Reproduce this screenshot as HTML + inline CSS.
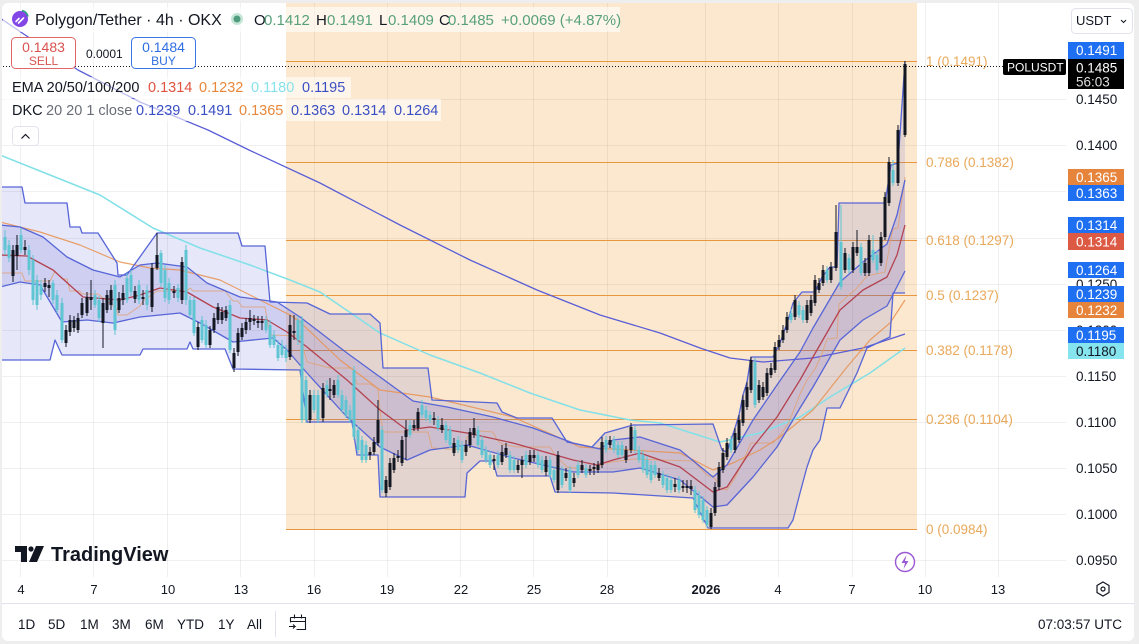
<!DOCTYPE html>
<html><head><meta charset="utf-8"><style>
html,body{margin:0;padding:0;background:#eeeeee;}
svg{display:block;font-family:"Liberation Sans",Arial,sans-serif;}
</style></head><body>
<svg width="1139" height="644" viewBox="0 0 1139 644" xmlns="http://www.w3.org/2000/svg">
<rect width="1139" height="644" fill="#eeeeee"/>
<rect x="2" y="3" width="1132" height="638" rx="6" fill="#ffffff"/>
<defs><clipPath id="c"><rect x="2" y="3" width="1064" height="574"/></clipPath></defs>
<g clip-path="url(#c)">
<rect x="286" y="3" width="631" height="526" fill="#fce8ce"/>
<g stroke="#000" stroke-opacity="0.06" stroke-width="1">
<path d="M2 99.5H1066M2 145.5H1066M2 191.5H1066M2 238.5H1066M2 284.5H1066M2 330.5H1066M2 376.5H1066M2 422.5H1066M2 468.5H1066M2 514.5H1066M2 560.5H1066"/>
<path d="M20.5 3V577M93.5 3V577M167.5 3V577M240.5 3V577M314.5 3V577M387.5 3V577M460.5 3V577M533.5 3V577M607.5 3V577M705.5 3V577M778.5 3V577M852.5 3V577M925.5 3V577M998.5 3V577"/>
</g>
<g stroke="#e8973f" stroke-width="1">
<path d="M286 61.5H917M286 162.5H917M286 240.5H917M286 295.5H917M286 350.5H917M286 419.5H917M286 529.5H917"/>
</g>
<polygon fill="#5a64dc" fill-opacity="0.15" points="0,187 22,187 25,203 67,203 70,227 80,227 82,233 98,233 117,263 118,275 127,275 157,233 238,233 242,246 265,246 270,302 307,303 330,314 370,314 380,323 383,368 428,368 432,400 497,403 502,412 517,418 552,418 567,442 592,447 605,433 633,425 713,424 722,450 727,452 735,428 739,415 743,395 747,382 751,357 773,357 780,343 788,320 793,303 802,292 815,292 822,277 830,267 837,267 839,203 885,203 891,165 898,163 905,61 905,293 893,293 890,337 867,348 857,373 840,408 827,408 820,440 813,450 807,467 800,493 793,520 788,528 708,528 693,498 613,493 555,492 550,476 497,476 493,461 480,461 467,473 465,497 380,497 378,455 357,455 352,422 307,422 300,370 233,369 225,349 193,349 190,342 187,349 143,349 140,355 62,355 55,340 50,360 0,360"/>
<polygon fill="#5046c8" fill-opacity="0.15" points="0,225 20,227 43,237 67,257 93,270 120,277 140,265 157,263 187,267 207,283 240,297 277,302 300,317 347,353 380,377 413,401 447,407 493,417 533,428 573,443 600,449 613,440 640,437 680,450 713,477 727,465 753,420 777,385 800,352 813,328 840,282 863,262 887,244 897,215 905,180 905,271 887,306 863,320 840,340 813,387 800,408 777,447 753,477 727,505 713,507 680,480 640,468 613,472 573,472 513,458 467,445 430,450 407,460 380,447 347,417 307,373 287,350 273,338 233,342 200,323 180,313 140,317 113,323 87,320 62,322 40,285 20,282 0,287"/>
<g fill="none" stroke-linejoin="round">
<polyline stroke="#5a5ed6" stroke-width="1.3" points="0,18 40,45 78,70 140,102 208,130 249,150 320,183 400,225 470,260 537,290 600,315 660,333 700,348 730,358 763,362 813,358 863,348 905,334"/>
<polyline stroke="#82e0e8" stroke-width="1.5" points="0,155 50,175 100,195 153,228 200,248 250,265 290,280 320,292 380,333 430,355 480,373 530,393 580,410 630,420 660,423 720,442 760,433 800,417 830,397 870,373 905,348"/>
<polyline stroke="#e8904f" stroke-opacity="0.85" stroke-width="1.2" points="0,222 40,232 80,245 120,262 150,268 180,270 220,280 260,300 290,315 300,322 340,360 380,390 430,397 513,417 580,447 680,453 713,470 733,463 760,450 780,437 813,410 847,367 870,340 890,323 905,300"/>
<polyline stroke="#e0a070" stroke-opacity="0.8" stroke-width="1" points="0,273 22,273 25,281 50,281 55,271 62,279 67,279 70,291 80,291 82,294 98,294 117,309 118,315 127,315 140,306 143,301 157,291 187,291 190,288 193,291 225,291 233,301 238,301 242,307 265,307 270,335 300,336 307,362 330,368 352,368 357,384 370,384 378,389 380,410 383,432 428,432 432,448 465,450 467,437 480,431 493,432 497,440 502,444 517,447 550,447 555,455 567,467 592,470 605,463 633,459 693,461 708,476 713,476 722,489 727,490 735,478 743,461 751,443 773,443 780,435 788,424 793,412 800,394 807,380 815,369 822,354 827,339 837,338 839,304 857,288 867,276 885,272 891,238 893,229 898,228 905,177"/>
<polyline stroke="#b3424f" stroke-width="1.3" points="0,255 27,256 53,270 83,297 120,300 140,295 160,288 187,292 213,307 240,318 267,320 287,332 307,347 347,380 380,410 407,430 430,427 467,433 513,443 573,460 597,465 613,460 640,453 680,467 713,492 727,487 753,447 777,417 800,380 813,357 840,310 863,290 887,277 897,255 905,225"/>
<polyline stroke="#5765d6" stroke-width="1.3" points="0,187 22,187 25,203 67,203 70,227 80,227 82,233 98,233 117,263 118,275 127,275 157,233 238,233 242,246 265,246 270,302 307,303 330,314 370,314 380,323 383,368 428,368 432,400 497,403 502,412 517,418 552,418 567,442 592,447 605,433 633,425 713,424 722,450 727,452 735,428 739,415 743,395 747,382 751,357 773,357 780,343 788,320 793,303 802,292 815,292 822,277 830,267 837,267 839,203 885,203 891,165 898,163 905,61"/>
<polyline stroke="#5765d6" stroke-width="1.3" points="0,360 50,360 55,340 62,355 140,355 143,349 187,349 190,342 193,349 225,349 233,369 300,370 307,422 352,422 357,455 378,455 380,497 465,497 467,473 480,461 493,461 497,476 550,476 555,492 613,493 693,498 708,528 788,528 793,520 800,493 807,467 813,450 820,440 827,408 840,408 857,373 867,348 890,337 893,293 905,293"/>
<polyline stroke="#5765d6" stroke-width="1.3" points="0,225 20,227 43,237 67,257 93,270 120,277 140,265 157,263 187,267 207,283 240,297 277,302 300,317 347,353 380,377 413,401 447,407 493,417 533,428 573,443 600,449 613,440 640,437 680,450 713,477 727,465 753,420 777,385 800,352 813,328 840,282 863,262 887,244 897,215 905,180"/>
<polyline stroke="#5765d6" stroke-width="1.3" points="0,287 20,282 40,285 62,322 87,320 113,323 140,317 180,313 200,323 233,342 273,338 287,350 307,373 347,417 380,447 407,460 430,450 467,445 513,458 573,472 613,472 640,468 680,480 713,507 727,505 753,477 777,447 800,408 813,387 840,340 863,320 887,306 905,271"/>
</g>
<path stroke="#5fc5d3" stroke-width="1" fill="none" d="M5 230V255M9 240V262M21 228V253M29 245V275M33 255V305M37 275V310M41 280V300M53 280V304M57 290V313M62 298V343M95 290V308M99 296V322M115 280V335M127 273V303M131 270V296M139 280V304M147 285V310M161 250V287M165 265V302M169 278V304M178 284V302M186 245V305M190 296V318M194 297V336M202 316V343M206 320V348M230 300V353M266 316V333M270 320V348M274 330V348M278 340V361M282 340V358M286 345V362M298 316V345M302 316V423M306 376V423M314 390V413M318 390V423M327 380V398M338 375V398M342 390V413M346 396V418M350 405V423M354 366V440M358 426V453M362 436V463M366 441V463M382 426V493M410 420V438M422 400V418M426 406V421M430 411V423M438 416V431M446 421V443M450 426V448M458 436V453M462 441V463M478 426V448M482 436V458M486 446V463M490 451V468M498 451V468M510 451V473M514 456V473M526 451V468M538 451V468M542 456V473M550 456V478M554 466V483M562 466V488M570 466V493M578 461V478M586 464V478M606 436V453M614 436V453M618 441V458M622 441V458M635 426V453M639 446V463M643 451V473M647 456V478M651 461V483M655 461V478M663 471V488M667 474V493M671 476V493M679 476V493M695 486V513M699 491V518M703 496V523M707 506V528M731 436V453M755 358V408M791 309V323M799 301V318M803 306V323M827 266V283M841 205V290M849 254V273M861 243V276M873 235V263M877 251V273M893 160V186"/>
<path fill="#5fc5d3" d="M3.5 237h3V250h-3zM7.5 245h3V258h-3zM19.5 235h3V250h-3zM27.5 250h3V270h-3zM31.5 260h3V300h-3zM35.5 280h3V305h-3zM39.5 285h3V295h-3zM51.5 283h3V300h-3zM55.5 295h3V310h-3zM60.5 303h3V340h-3zM93.5 295h3V305h-3zM97.5 300h3V318h-3zM113.5 285h3V330h-3zM125.5 278h3V300h-3zM129.5 275h3V292h-3zM137.5 285h3V300h-3zM145.5 290h3V305h-3zM159.5 253h3V283h-3zM163.5 270h3V298h-3zM167.5 283h3V300h-3zM176.5 288h3V298h-3zM184.5 250h3V300h-3zM188.5 300h3V315h-3zM192.5 300h3V333h-3zM200.5 320h3V340h-3zM204.5 325h3V345h-3zM228.5 305h3V350h-3zM264.5 320h3V330h-3zM268.5 325h3V345h-3zM272.5 335h3V345h-3zM276.5 345h3V358h-3zM280.5 345h3V355h-3zM284.5 350h3V358h-3zM296.5 320h3V340h-3zM300.5 320h3V420h-3zM304.5 380h3V420h-3zM312.5 395h3V410h-3zM316.5 395h3V420h-3zM325.5 385h3V395h-3zM336.5 380h3V395h-3zM340.5 395h3V410h-3zM344.5 400h3V415h-3zM348.5 410h3V420h-3zM352.5 370h3V437h-3zM356.5 430h3V450h-3zM360.5 440h3V460h-3zM364.5 445h3V460h-3zM380.5 430h3V490h-3zM408.5 425h3V435h-3zM420.5 405h3V415h-3zM424.5 410h3V418h-3zM428.5 415h3V420h-3zM436.5 420h3V428h-3zM444.5 425h3V440h-3zM448.5 430h3V445h-3zM456.5 440h3V450h-3zM460.5 445h3V460h-3zM476.5 430h3V445h-3zM480.5 440h3V455h-3zM484.5 450h3V460h-3zM488.5 455h3V465h-3zM496.5 455h3V465h-3zM508.5 455h3V470h-3zM512.5 460h3V470h-3zM524.5 455h3V465h-3zM536.5 455h3V465h-3zM540.5 460h3V470h-3zM548.5 460h3V475h-3zM552.5 470h3V480h-3zM560.5 470h3V485h-3zM568.5 470h3V490h-3zM576.5 465h3V475h-3zM584.5 468h3V475h-3zM604.5 440h3V450h-3zM612.5 440h3V450h-3zM616.5 445h3V455h-3zM620.5 445h3V455h-3zM633.5 430h3V450h-3zM637.5 450h3V460h-3zM641.5 455h3V470h-3zM645.5 460h3V475h-3zM649.5 465h3V480h-3zM653.5 465h3V475h-3zM661.5 475h3V485h-3zM665.5 478h3V490h-3zM669.5 480h3V490h-3zM677.5 480h3V490h-3zM693.5 490h3V510h-3zM697.5 495h3V515h-3zM701.5 500h3V520h-3zM705.5 510h3V525h-3zM729.5 440h3V450h-3zM753.5 362h3V405h-3zM789.5 313h3V320h-3zM797.5 305h3V315h-3zM801.5 310h3V320h-3zM825.5 270h3V280h-3zM839.5 242h3V287h-3zM847.5 258h3V270h-3zM859.5 247h3V273h-3zM871.5 250h3V260h-3zM875.5 255h3V270h-3zM891.5 170h3V183h-3z"/>
<path stroke="#131722" stroke-width="1" fill="none" d="M13 245V282M17 235V270M25 240V255M45 278V292M49 280V297M66 325V347M70 315V336M74 316V332M78 313V333M82 298V318M87 292V316M91 280V310M103 298V348M107 290V313M111 285V310M119 292V313M123 285V305M135 286V303M143 290V305M152 263V312M157 233V270M174 286V298M182 257V304M198 322V350M210 326V348M214 313V333M218 303V324M222 307V324M226 306V321M234 348V372M238 328V356M242 323V340M246 318V334M250 310V330M254 315V325M258 316V328M262 316V330M290 315V360M294 315V340M310 390V423M323 383V422M330 378V400M334 380V398M370 447V460M374 437V455M378 400V446M386 476V497M390 458V490M394 453V473M398 450V462M402 436V466M406 420V460M414 420V431M418 408V431M434 412V425M442 418V433M454 438V456M466 440V456M470 428V448M474 418V438M494 455V470M502 445V465M506 443V458M518 460V473M522 456V478M530 450V465M534 450V462M546 456V476M558 451V493M566 468V481M574 473V487M582 460V473M590 465V475M594 463V475M598 461V473M602 437V468M610 436V448M626 446V463M631 423V453M659 468V481M675 478V492M683 480V492M687 480V493M691 480V495M711 508V529M715 482V516M719 462V490M723 448V473M727 438V460M735 428V453M739 415V443M743 395V426M747 382V410M751 357V393M759 380V403M763 382V400M767 368V396M771 363V378M775 342V373M779 335V350M783 325V343M787 312V333M795 295V320M807 300V323M811 295V316M815 275V306M819 278V293M823 265V286M831 262V283M836 205V271M845 248V273M853 242V273M857 230V256M865 258V276M869 235V276M881 232V266M885 192V240M889 157V206M898 125V186M905 61V137"/>
<path fill="#131722" d="M11.5 250h3V276h-3zM15.5 245h3V256h-3zM23.5 247h3V250h-3zM43.5 283h3V287h-3zM47.5 285h3V288h-3zM64.5 330h3V343h-3zM68.5 320h3V332h-3zM72.5 320h3V328h-3zM76.5 318h3V330h-3zM80.5 303h3V315h-3zM85.5 297h3V313h-3zM89.5 297h3V300h-3zM101.5 303h3V323h-3zM105.5 295h3V310h-3zM109.5 290h3V305h-3zM117.5 298h3V310h-3zM121.5 293h3V300h-3zM133.5 291h3V299h-3zM141.5 297h3V299h-3zM150.5 268h3V307h-3zM155.5 255h3V268h-3zM172.5 291h3V293h-3zM180.5 262h3V300h-3zM196.5 327h3V347h-3zM208.5 330h3V345h-3zM212.5 318h3V330h-3zM216.5 307h3V320h-3zM220.5 312h3V320h-3zM224.5 310h3V318h-3zM232.5 353h3V368h-3zM236.5 333h3V352h-3zM240.5 328h3V337h-3zM244.5 322h3V330h-3zM248.5 318h3V322h-3zM252.5 319h3V321h-3zM256.5 321h3V323h-3zM260.5 321h3V323h-3zM288.5 325h3V357h-3zM292.5 331h3V333h-3zM308.5 395h3V420h-3zM321.5 388h3V418h-3zM328.5 389h3V391h-3zM332.5 385h3V395h-3zM368.5 452h3V455h-3zM372.5 442h3V452h-3zM376.5 420h3V443h-3zM384.5 480h3V493h-3zM388.5 463h3V487h-3zM392.5 458h3V470h-3zM396.5 456h3V458h-3zM400.5 440h3V463h-3zM404.5 430h3V437h-3zM412.5 425h3V428h-3zM416.5 412h3V428h-3zM432.5 418h3V420h-3zM440.5 425h3V430h-3zM452.5 443h3V453h-3zM464.5 445h3V452h-3zM468.5 432h3V445h-3zM472.5 428h3V435h-3zM492.5 459h3V461h-3zM500.5 452h3V462h-3zM504.5 448h3V455h-3zM516.5 465h3V470h-3zM520.5 460h3V465h-3zM528.5 455h3V462h-3zM532.5 455h3V458h-3zM544.5 460h3V472h-3zM556.5 455h3V490h-3zM564.5 473h3V478h-3zM572.5 478h3V483h-3zM580.5 465h3V470h-3zM588.5 469h3V471h-3zM592.5 467h3V469h-3zM596.5 465h3V470h-3zM600.5 442h3V465h-3zM608.5 440h3V445h-3zM624.5 450h3V460h-3zM629.5 427h3V450h-3zM657.5 473h3V478h-3zM673.5 484h3V487h-3zM681.5 486h3V488h-3zM685.5 486h3V488h-3zM689.5 486h3V489h-3zM709.5 513h3V527h-3zM713.5 487h3V513h-3zM717.5 467h3V487h-3zM721.5 453h3V470h-3zM725.5 443h3V457h-3zM733.5 433h3V450h-3zM737.5 420h3V440h-3zM741.5 400h3V423h-3zM745.5 387h3V407h-3zM749.5 360h3V390h-3zM757.5 385h3V400h-3zM761.5 387h3V397h-3zM765.5 373h3V393h-3zM769.5 368h3V375h-3zM773.5 347h3V370h-3zM777.5 340h3V347h-3zM781.5 330h3V340h-3zM785.5 317h3V330h-3zM793.5 300h3V317h-3zM805.5 305h3V320h-3zM809.5 300h3V313h-3zM813.5 280h3V303h-3zM817.5 283h3V290h-3zM821.5 270h3V283h-3zM829.5 267h3V280h-3zM834.5 232h3V268h-3zM843.5 253h3V270h-3zM851.5 247h3V270h-3zM855.5 247h3V253h-3zM863.5 263h3V273h-3zM867.5 240h3V273h-3zM879.5 237h3V263h-3zM883.5 197h3V237h-3zM887.5 162h3V203h-3zM896.5 130h3V183h-3zM903.5 64h3V135h-3z"/>
</g>
<!-- fib labels -->
<g font-size="13.5" fill="#e9a85a">
<text x="926" y="66">1 (0.1491)</text>
<text x="926" y="167">0.786 (0.1382)</text>
<text x="926" y="245">0.618 (0.1297)</text>
<text x="926" y="300">0.5 (0.1237)</text>
<text x="926" y="355">0.382 (0.1178)</text>
<text x="926" y="424">0.236 (0.1104)</text>
<text x="926" y="534">0 (0.0984)</text>
</g>
<!-- legend backgrounds -->
<rect x="3" y="7" width="617" height="25" fill="#fff" fill-opacity="0.6"/>
<rect x="3" y="77" width="348" height="21" fill="#fff" fill-opacity="0.6"/>
<rect x="3" y="99" width="438" height="22" fill="#fff" fill-opacity="0.6"/>
<!-- current price dotted line -->
<line x1="3" y1="66.5" x2="1003" y2="66.5" stroke="#131722" stroke-width="1" stroke-dasharray="1 2"/>
<!-- header -->
<circle cx="20" cy="19" r="8" fill="#8247e5"/>
<path d="M16 21.5l3-3M18.5 23l5-5" stroke="#fff" stroke-width="1.6" stroke-linecap="round"/>
<path d="M22 10.5a8 8 0 0 1 6 6" stroke="#26a17b" stroke-width="1.5" fill="none"/>
<text x="35" y="25" font-size="16" fill="#131722">Polygon/Tether · 4h · OKX</text>
<circle cx="237" cy="19" r="6" fill="#c5e6d6"/>
<circle cx="237" cy="19" r="3.5" fill="#4f9d7e"/>
<g font-size="15">
<text x="254" y="25" fill="#131722">O</text><text x="264" y="25" fill="#57a07a">0.1412</text>
<text x="316" y="25" fill="#131722">H</text><text x="327" y="25" fill="#57a07a">0.1491</text>
<text x="379" y="25" fill="#131722">L</text><text x="388" y="25" fill="#57a07a">0.1409</text>
<text x="439" y="25" fill="#131722">C</text><text x="448" y="25" fill="#57a07a">0.1485</text>
<text x="501" y="25" fill="#57a07a">+0.0069 (+4.87%)</text>
</g>
<rect x="11.5" y="37.5" width="64" height="31" rx="4" fill="#fff" stroke="#e06767"/>
<text x="43.5" y="52" font-size="14" fill="#d9534f" text-anchor="middle">0.1483</text>
<text x="43.5" y="65" font-size="12" fill="#d9534f" text-anchor="middle">SELL</text>
<text x="86" y="58" font-size="12" fill="#131722">0.0001</text>
<rect x="131.5" y="37.5" width="64" height="31" rx="4" fill="#fff" stroke="#3b78e7"/>
<text x="163.5" y="52" font-size="14" fill="#2f6fe0" text-anchor="middle">0.1484</text>
<text x="163.5" y="65" font-size="12" fill="#2f6fe0" text-anchor="middle">BUY</text>
<g font-size="14.5">
<text x="12" y="92" fill="#131722">EMA 20/50/100/200</text>
<text x="148" y="92" fill="#e0533f">0.1314</text>
<text x="199" y="92" fill="#e8873a">0.1232</text>
<text x="251" y="92" fill="#88e1ec">0.1180</text>
<text x="302" y="92" fill="#3b4fc4">0.1195</text>
<text x="12" y="115" fill="#131722">DKC</text>
<text x="46" y="115" fill="#6a6d78">20 20 1 close</text>
<text x="136" y="115" fill="#3b4fc4">0.1239</text>
<text x="188" y="115" fill="#3b4fc4">0.1491</text>
<text x="239" y="115" fill="#e8873a">0.1365</text>
<text x="291" y="115" fill="#3b4fc4">0.1363</text>
<text x="342" y="115" fill="#3b4fc4">0.1314</text>
<text x="394" y="115" fill="#3b4fc4">0.1264</text>
</g>
<rect x="12.5" y="126.5" width="26" height="19" rx="4" fill="#fff" stroke="#e0e3eb"/>
<path d="M21.5 138.5l4-4 4 4" stroke="#131722" stroke-width="1.2" fill="none"/>
<!-- price axis -->
<rect x="1071.5" y="8.5" width="61" height="25" rx="4" fill="#fff" stroke="#e0e3eb"/>
<text x="1076" y="25" font-size="13" fill="#131722">USDT</text>
<path d="M1121 20l2.5 2.5 2.5-2.5" stroke="#131722" stroke-width="1" fill="none"/>
<g font-size="13.5" fill="#131722">
<text x="1076" y="104">0.1450</text>
<text x="1076" y="150">0.1400</text>
<text x="1076" y="289">0.1250</text>
<text x="1076" y="335">0.1200</text>
<text x="1076" y="381">0.1150</text>
<text x="1076" y="427">0.1100</text>
<text x="1076" y="473">0.1050</text>
<text x="1076" y="519">0.1000</text>
<text x="1076" y="565">0.0950</text>
</g>
<rect x="1003" y="59" width="63" height="16" rx="2" fill="#000"/>
<text x="1007" y="71.5" font-size="12" fill="#fff">POLUSDT</text>
<rect x="1068" y="42" width="56" height="17" fill="#1e6ff1"/>
<rect x="1068" y="59" width="56" height="30" fill="#000"/>
<rect x="1068" y="169" width="56" height="16" fill="#e6843c"/>
<rect x="1068" y="185" width="56" height="16" fill="#1e6ff1"/>
<rect x="1068" y="217" width="56" height="16" fill="#1e6ff1"/>
<rect x="1068" y="233" width="56" height="17" fill="#dc5a44"/>
<rect x="1068" y="262" width="56" height="16" fill="#1e6ff1"/>
<rect x="1068" y="286" width="56" height="16" fill="#1e6ff1"/>
<rect x="1068" y="302" width="56" height="16" fill="#e6843c"/>
<rect x="1068" y="327" width="56" height="16" fill="#1e6ff1"/>
<rect x="1068" y="343" width="56" height="16" fill="#86e4ee"/>
<g font-size="13.5" fill="#fff">
<text x="1076" y="55">0.1491</text>
<text x="1076" y="72.5">0.1485</text>
<text x="1076" y="86.5" fill="#dddddd">56:03</text>
<text x="1076" y="182">0.1365</text>
<text x="1076" y="198">0.1363</text>
<text x="1076" y="230">0.1314</text>
<text x="1076" y="246.5">0.1314</text>
<text x="1076" y="275">0.1264</text>
<text x="1076" y="299">0.1239</text>
<text x="1076" y="315">0.1232</text>
<text x="1076" y="340">0.1195</text>
<text x="1076" y="356" fill="#131722">0.1180</text>
</g>
<!-- TradingView logo -->
<path d="M15 546h12v16h-6v-10h-6z" fill="#131722"/>
<circle cx="31" cy="549" r="2.6" fill="#131722"/>
<path d="M36 546h8l-7 16h-8z" fill="#131722"/>
<text x="51" y="561" font-size="20" font-weight="bold" fill="#131722">TradingView</text>
<!-- lightning -->
<circle cx="905" cy="562" r="9.5" fill="#fff" stroke="#9c57d3" stroke-width="1.4"/>
<path d="M906.5 555L901.5 563H905L903.5 569L908.5 561H905Z" fill="#9c57d3"/>
<!-- time axis -->
<g font-size="13" fill="#131722" text-anchor="middle">
<text x="21" y="594">4</text>
<text x="94" y="594">7</text>
<text x="168" y="594">10</text>
<text x="241" y="594">13</text>
<text x="314" y="594">16</text>
<text x="387" y="594">19</text>
<text x="461" y="594">22</text>
<text x="534" y="594">25</text>
<text x="607" y="594">28</text>
<text x="706" y="594" font-weight="bold">2026</text>
<text x="778" y="594">4</text>
<text x="852" y="594">7</text>
<text x="925" y="594">10</text>
<text x="998" y="594">13</text>
</g>
<path d="M1103 582l6 3.5v7l-6 3.5-6-3.5v-7z" stroke="#131722" stroke-width="1.2" fill="none"/>
<circle cx="1103" cy="589" r="2" stroke="#131722" stroke-width="1.2" fill="none"/>
<line x1="2" y1="603.5" x2="1134" y2="603.5" stroke="#e0e3eb"/>
<!-- bottom toolbar -->
<g font-size="13.5" fill="#131722">
<text x="18" y="629">1D</text>
<text x="48" y="629">5D</text>
<text x="80" y="629">1M</text>
<text x="112" y="629">3M</text>
<text x="145" y="629">6M</text>
<text x="177" y="629">YTD</text>
<text x="218" y="629">1Y</text>
<text x="247" y="629">All</text>
<text x="1122" y="629" text-anchor="end">07:03:57 UTC</text>
</g>
<line x1="275.5" y1="611" x2="275.5" y2="637" stroke="#e0e3eb"/>
<path d="M290.5 617.5h15v12h-9M290.5 617.5v5M290.5 621.5h15M294.5 614.5v4M301.5 614.5v4M289 626.5h6l-2-2M295 626.5l-2 2" stroke="#131722" stroke-width="1.1" fill="none"/>
</svg>
</body></html>
